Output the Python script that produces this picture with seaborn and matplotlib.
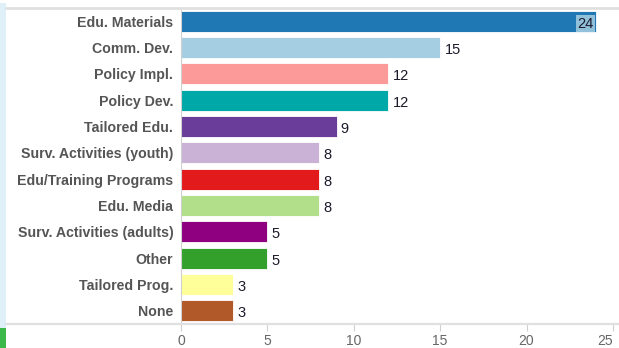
import matplotlib
matplotlib.use("Agg")
import matplotlib.pyplot as plt
import seaborn as sns
import pandas as pd
from matplotlib.patches import Rectangle
from matplotlib.lines import Line2D

categories = [
    "Edu. Materials", "Comm. Dev.", "Policy Impl.", "Policy Dev.",
    "Tailored Edu.", "Surv. Activities (youth)", "Edu/Training Programs",
    "Edu. Media", "Surv. Activities (adults)", "Other", "Tailored Prog.", "None",
]
counts = [24, 15, 12, 12, 9, 8, 8, 8, 5, 5, 3, 3]
colors = [
    "#1f77b4", "#a6cee3", "#fb9a99", "#00a8a8", "#6a3d9a", "#cab2d6",
    "#e31a1c", "#b2df8a", "#8e0080", "#33a02c", "#ffff99", "#b15928",
]
x_ticks = [0, 5, 10, 15, 20, 25]

sns.set_theme(style="white")
plt.rcParams["font.family"] = ["Liberation Sans", "DejaVu Sans"]

df = pd.DataFrame({"category": categories, "count": counts})

fig = plt.figure(figsize=(6.19, 3.48), dpi=100)
ax = fig.add_axes([181 / 619, 24 / 348, 1 - 181 / 619, 316 / 348])

sns.barplot(data=df, y="category", x="count", hue="category",
            palette=colors, order=categories, hue_order=categories,
            orient="h", width=0.8, legend=False, ax=ax,
            edgecolor="white", linewidth=0.6, saturation=1)

ax.set_xlim(0, 25.35)
ax.set_ylim(len(categories) - 0.5, -0.5)
ax.set_xticks(x_ticks)
ax.set_xticklabels([str(t) for t in x_ticks], color="#666666", fontsize=10)
# keep the last tick label inside the figure edge
last = ax.get_xticklabels()[-1]
last.set_horizontalalignment("right")
last.set_x(25.3)
ax.set_yticks(range(len(categories)))
ax.set_yticklabels(categories, color="#555555", fontsize=10.2, fontweight="bold")
ax.tick_params(axis="y", length=0, pad=5.5)
ax.tick_params(axis="x", length=5, width=0.8, color="#d0d0d0", pad=2,
               direction="out", bottom=True)
ax.set_xlabel("")
ax.set_ylabel("")

for side in ["top", "right", "bottom"]:
    ax.spines[side].set_visible(False)
ax.spines["left"].set_color("#d0d0d0")
ax.spines["left"].set_linewidth(0.8)

# value labels
for i, v in enumerate(counts):
    if v >= 20:
        ax.text(v - 0.12, i + 0.1, str(v), ha="right", va="center",
                fontsize=10.5, color="#1a1a2a",
                bbox=dict(boxstyle="square,pad=0.1", fc="#a6cee3",
                          ec="none", alpha=0.85))
    else:
        ax.text(v + 0.25, i + 0.1, str(v), ha="left", va="center",
                fontsize=10.5, color="#1a1a2a")

# header and footer rules
fig.add_artist(Line2D([6 / 619, 1], [1 - 8 / 348, 1 - 8 / 348],
                      color="#e0e0e0", lw=2, transform=fig.transFigure))
fig.add_artist(Line2D([6 / 619, 1], [24 / 348, 24 / 348],
                      color="#e0e0e0", lw=1.6, transform=fig.transFigure))

# side panel strip
fig.add_artist(Rectangle((0, 20 / 348), 6 / 619, 325 / 348,
                         color="#dff0f8", transform=fig.transFigure, lw=0))
fig.add_artist(Rectangle((0, 0), 6 / 619, 20 / 348,
                         color="#3db84a", transform=fig.transFigure, lw=0))

fig.savefig("out.png", dpi=100)
